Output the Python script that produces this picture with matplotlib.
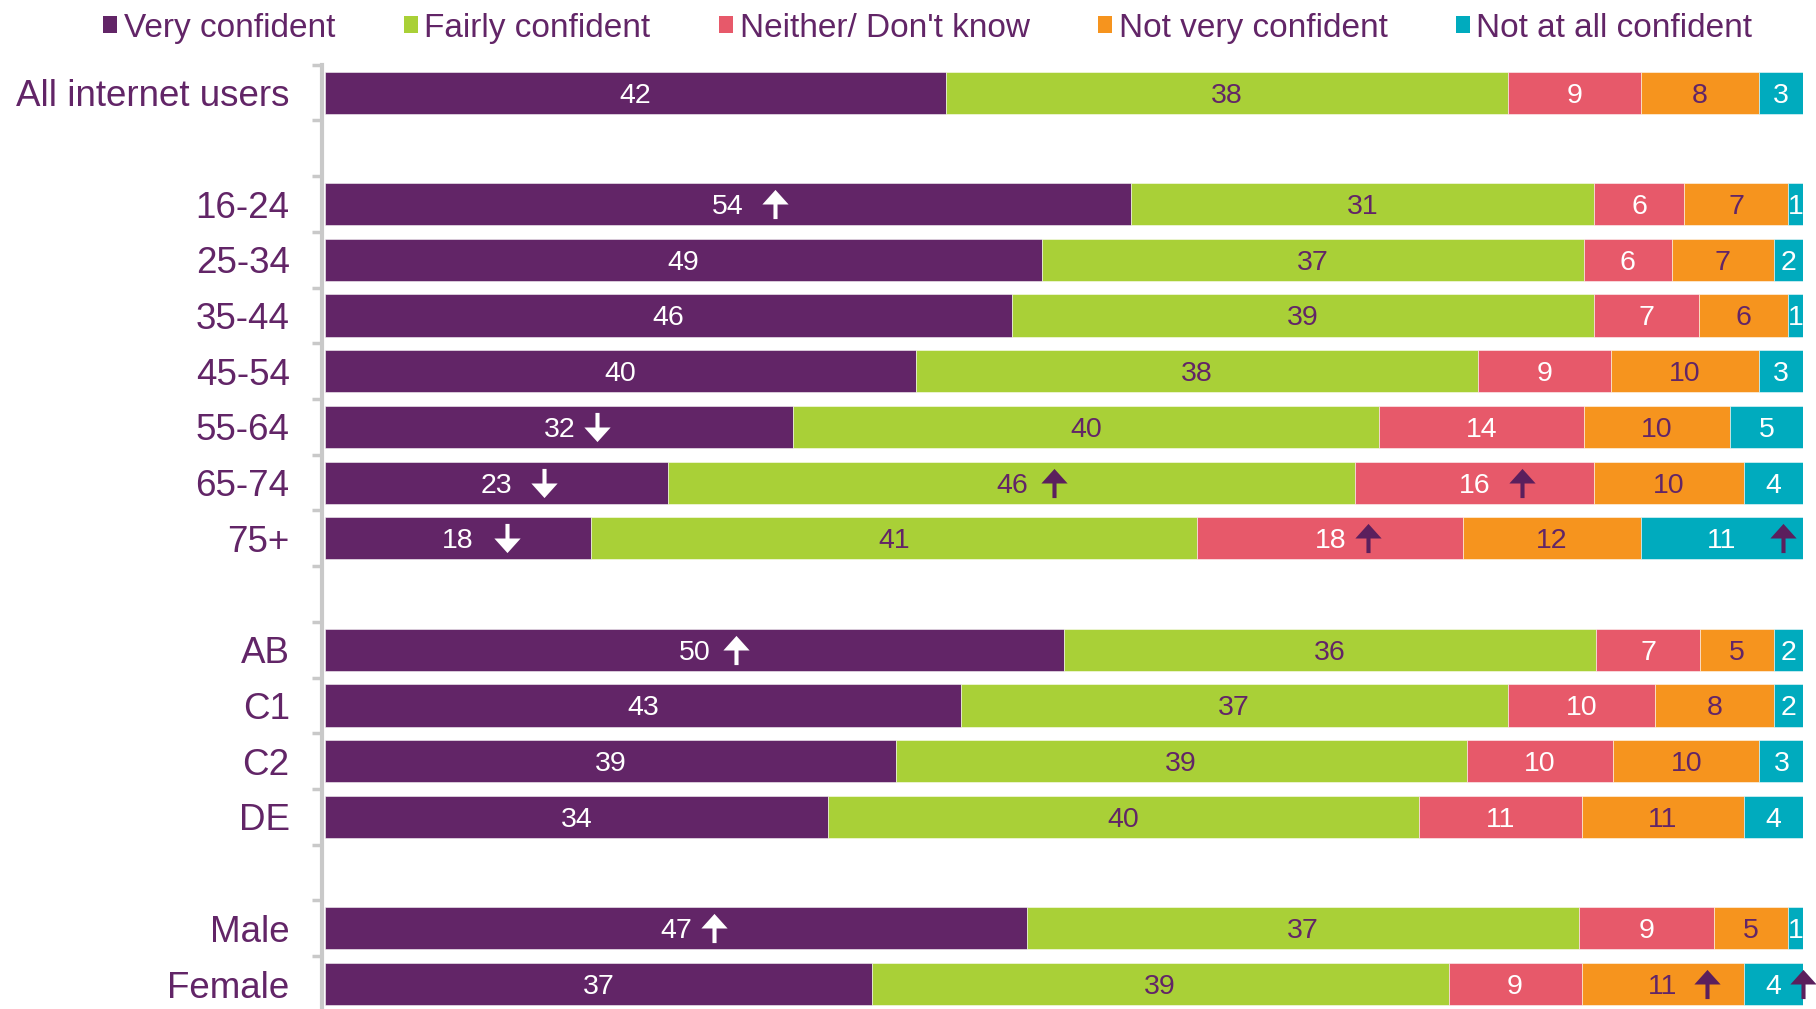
import matplotlib
matplotlib.use("Agg")
import matplotlib.pyplot as plt
import numpy as np
from matplotlib.patches import Patch
from matplotlib.path import Path
from matplotlib.transforms import ScaledTranslation

plt.rcParams["font.family"] = ["Liberation Sans", "DejaVu Sans"]

# ---- data -------------------------------------------------------------
series = ["Very confident", "Fairly confident", "Neither/ Don't know",
          "Not very confident", "Not at all confident"]

rows = ["All internet users", None,
        "16-24", "25-34", "35-44", "45-54", "55-64", "65-74", "75+", None,
        "AB", "C1", "C2", "DE", None,
        "Male", "Female"]

very_confident     = [42, 54, 49, 46, 40, 32, 23, 18, 50, 43, 39, 34, 47, 37]
fairly_confident   = [38, 31, 37, 39, 38, 40, 46, 41, 36, 37, 39, 40, 37, 39]
neither_dont_know  = [9, 6, 6, 7, 9, 14, 16, 18, 7, 10, 10, 11, 9, 9]
not_very_confident = [8, 7, 7, 6, 10, 10, 10, 12, 5, 8, 10, 11, 5, 11]
not_at_all         = [3, 1, 2, 1, 3, 5, 4, 11, 2, 2, 3, 4, 1, 4]

# significant differences: (row, series index, direction)
sig_marks = [("16-24", 0, "up"), ("55-64", 0, "down"), ("65-74", 0, "down"),
             ("75+", 0, "down"), ("65-74", 1, "up"), ("65-74", 2, "up"),
             ("75+", 2, "up"), ("75+", 4, "up"), ("AB", 0, "up"),
             ("Male", 0, "up"), ("Female", 3, "up"), ("Female", 4, "up")]

# ---- style ------------------------------------------------------------
PURPLE = "#622567"
colors = [PURPLE, "#A9D037", "#E7596A", "#F6941E", "#00ABBE"]
label_colors = ["white", PURPLE, "white", PURPLE, "white"]
arrow_colors = {0: "white", 1: "#5B1F5D", 2: "#5B1F5D", 3: "#5B1F5D", 4: "#5B1F5D"}
# horizontal gap (pixels) between value label centre and arrow
arrow_gaps = [47, 38, 47, 49, 42, 47, 38, 61, 41, 38, 44, 29]
GREY = "#C9C9C9"

fig = plt.figure(figsize=(18.16, 10.09), dpi=100)
ax = fig.add_axes([0.179, -0.0029, 0.814, 0.9387])

values = np.array([very_confident, fairly_confident, neither_dont_know,
                   not_very_confident, not_at_all], dtype=float)
shares = values / values.sum(axis=0) * 100

ypos = [i for i, r in enumerate(rows) if r is not None]
labels = [r for r in rows if r is not None]
row_index = {lab: k for k, lab in enumerate(labels)}

left = np.zeros(len(ypos))
for s in range(len(series)):
    ax.barh(ypos, shares[s], left=left, height=0.755, color=colors[s],
            edgecolor=(1, 1, 1, 0.6), linewidth=0.6, label=series[s], zorder=2)
    for k, y in enumerate(ypos):
        ax.text(left[k] + shares[s][k] / 2, y, f"{int(values[s][k])}",
                ha="center", va="center_baseline", fontsize=20.5,
                color=label_colors[s], zorder=4)
    left += shares[s]

# cumulative left edges to locate each segment centre
cum = np.vstack([np.zeros(len(ypos)), np.cumsum(shares, axis=0)])

up = Path([(-0.07, -0.5), (0.07, -0.5), (0.07, 0.0), (0.45, 0.0),
           (0.0, 0.5), (-0.45, 0.0), (-0.07, 0.0), (-0.07, -0.5)],
          [Path.MOVETO] + [Path.LINETO] * 6 + [Path.CLOSEPOLY])
down = Path(up.vertices * np.array([1, -1]), up.codes)

for (lab, s, d), gap in zip(sig_marks, arrow_gaps):
    k = row_index[lab]
    xc = (cum[s][k] + cum[s + 1][k]) / 2
    tr = ax.transData + ScaledTranslation(gap / 100, 0, fig.dpi_scale_trans)
    ax.plot([xc], [ypos[k]], marker=up if d == "up" else down, markersize=21,
            color=arrow_colors[s], markeredgewidth=0, linestyle="none",
            transform=tr, clip_on=False, zorder=5)

ax.set_xlim(0, 100)
ax.set_ylim(len(rows) - 0.5, -0.5)

ax.set_yticks(np.arange(-0.5, len(rows) + 0.5, 1), minor=True)
ax.set_yticks(ypos)
ax.set_yticklabels(labels)
ax.tick_params(axis="y", which="major", length=0, pad=23.5,
               labelsize=26.5, labelcolor=PURPLE)
ax.tick_params(axis="y", which="minor", length=7.5, width=2.5, color=GREY)
ax.set_xticks([])

for side in ["top", "right", "bottom"]:
    ax.spines[side].set_visible(False)
ax.spines["left"].set_color(GREY)
ax.spines["left"].set_linewidth(3)
ax.spines["left"].set_position(("outward", 2))

handles = [Patch(facecolor=c, edgecolor="none") for c in colors]
fig.legend(handles, series, loc="center", bbox_to_anchor=(0.511, 0.972),
           ncol=5, frameon=False, fontsize=24, labelcolor=PURPLE,
           handlelength=0.42, handleheight=0.42, handletextpad=0.2,
           columnspacing=2.05, borderaxespad=0)

fig.savefig("out.png", dpi=100)
